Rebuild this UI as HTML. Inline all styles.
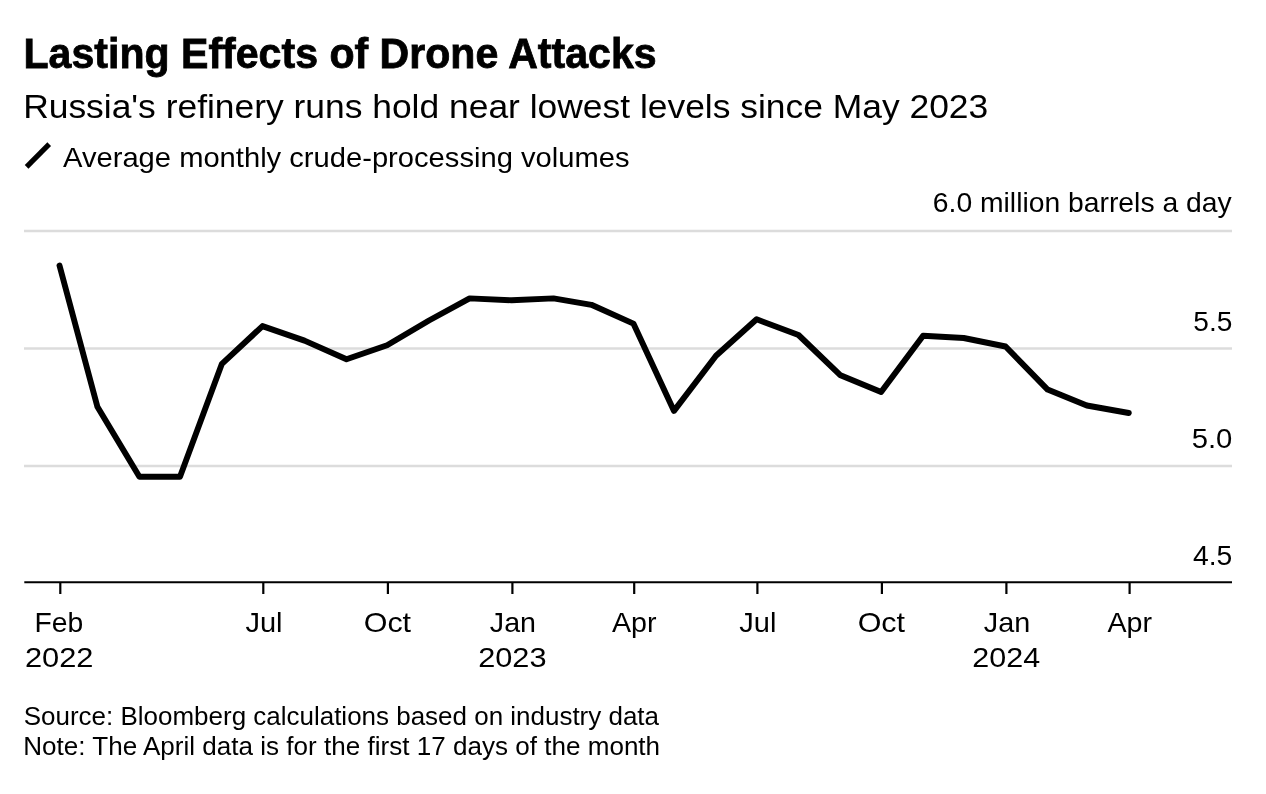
<!DOCTYPE html>
<html><head><meta charset="utf-8"><title>Lasting Effects of Drone Attacks</title>
<style>
html,body{margin:0;padding:0;background:#fff;}
svg{display:block;font-family:"Liberation Sans",sans-serif;fill:#000;}
</style></head><body>
<svg width="1266" height="794" viewBox="0 0 1266 794">
<rect width="1266" height="794" fill="#fff"/>
<line x1="26.6" y1="166.9" x2="49.2" y2="144.2" stroke="#000" stroke-width="5.2"/>
<g stroke="#dcdcdc" stroke-width="2.4">
<line x1="24" y1="231" x2="1232" y2="231"/>
<line x1="24" y1="348.5" x2="1232" y2="348.5"/>
<line x1="24" y1="466" x2="1232" y2="466"/>
</g>
<path d="M59.5,265.5 L97.4,406.8 L139.4,476.7 L180.0,476.7 L221.9,363.8 L262.5,326.1 L304.5,340.6 L346.5,359.3 L387.1,345.2 L429.0,320.5 L469.6,298.4 L511.6,300.3 L553.5,298.4 L591.4,304.8 L633.4,323.6 L674.0,410.9 L716.0,355.7 L756.6,319.3 L798.5,335.0 L840.5,375.3 L881.1,392.0 L923.1,335.8 L963.7,338.0 L1005.6,346.5 L1047.6,389.6 L1086.8,405.5 L1128.8,413.0" fill="none" stroke="#000" stroke-width="5.9" stroke-linejoin="round" stroke-linecap="round"/>
<line x1="24.3" y1="582.3" x2="1232" y2="582.3" stroke="#000" stroke-width="2.1"/>
<g stroke="#000" stroke-width="2.2">
<line x1="60.3" y1="582.3" x2="60.3" y2="594"/>
<line x1="263.3" y1="582.3" x2="263.3" y2="594"/>
<line x1="387.9" y1="582.3" x2="387.9" y2="594"/>
<line x1="512.4" y1="582.3" x2="512.4" y2="594"/>
<line x1="634.2" y1="582.3" x2="634.2" y2="594"/>
<line x1="757.4" y1="582.3" x2="757.4" y2="594"/>
<line x1="881.9" y1="582.3" x2="881.9" y2="594"/>
<line x1="1006.4" y1="582.3" x2="1006.4" y2="594"/>
<line x1="1129.6" y1="582.3" x2="1129.6" y2="594"/>
</g>
<text x="23.50" y="67.70" font-size="41.6" font-weight="bold" stroke="#000" stroke-width="0.8" textLength="633.10" lengthAdjust="spacingAndGlyphs">Lasting Effects of Drone Attacks</text>
<text x="23.15" y="118.20" font-size="33" textLength="965.06" lengthAdjust="spacingAndGlyphs">Russia's refinery runs hold near lowest levels since May 2023</text>
<text x="63.00" y="166.50" font-size="28" textLength="566.49" lengthAdjust="spacingAndGlyphs">Average monthly crude-processing volumes</text>
<text x="932.80" y="211.80" font-size="28" textLength="298.82" lengthAdjust="spacingAndGlyphs">6.0 million barrels a day</text>
<text x="1193.35" y="331.00" font-size="28" textLength="39.04" lengthAdjust="spacingAndGlyphs">5.5</text>
<text x="1191.70" y="448.20" font-size="28" textLength="40.70" lengthAdjust="spacingAndGlyphs">5.0</text>
<text x="1192.90" y="565.20" font-size="28" textLength="39.36" lengthAdjust="spacingAndGlyphs">4.5</text>
<text x="34.60" y="631.80" font-size="28" textLength="48.68" lengthAdjust="spacingAndGlyphs">Feb</text>
<text x="24.95" y="666.70" font-size="28" textLength="68.58" lengthAdjust="spacingAndGlyphs">2022</text>
<text x="245.42" y="631.80" font-size="28" textLength="37.13" lengthAdjust="spacingAndGlyphs">Jul</text>
<text x="363.73" y="631.80" font-size="28" textLength="47.35" lengthAdjust="spacingAndGlyphs">Oct</text>
<text x="489.88" y="631.80" font-size="28" textLength="46.16" lengthAdjust="spacingAndGlyphs">Jan</text>
<text x="478.18" y="666.70" font-size="28" textLength="68.32" lengthAdjust="spacingAndGlyphs">2023</text>
<text x="611.95" y="631.80" font-size="28" textLength="44.54" lengthAdjust="spacingAndGlyphs">Apr</text>
<text x="739.34" y="631.80" font-size="28" textLength="37.13" lengthAdjust="spacingAndGlyphs">Jul</text>
<text x="857.65" y="631.80" font-size="28" textLength="47.35" lengthAdjust="spacingAndGlyphs">Oct</text>
<text x="983.80" y="631.80" font-size="28" textLength="46.42" lengthAdjust="spacingAndGlyphs">Jan</text>
<text x="972.35" y="666.70" font-size="28" textLength="67.75" lengthAdjust="spacingAndGlyphs">2024</text>
<text x="1107.44" y="631.80" font-size="28" textLength="44.54" lengthAdjust="spacingAndGlyphs">Apr</text>
<text x="23.75" y="724.60" font-size="25" textLength="635.28" lengthAdjust="spacingAndGlyphs">Source: Bloomberg calculations based on industry data</text>
<text x="23.20" y="754.80" font-size="25" textLength="636.93" lengthAdjust="spacingAndGlyphs">Note: The April data is for the first 17 days of the month</text>
</svg>
</body></html>
